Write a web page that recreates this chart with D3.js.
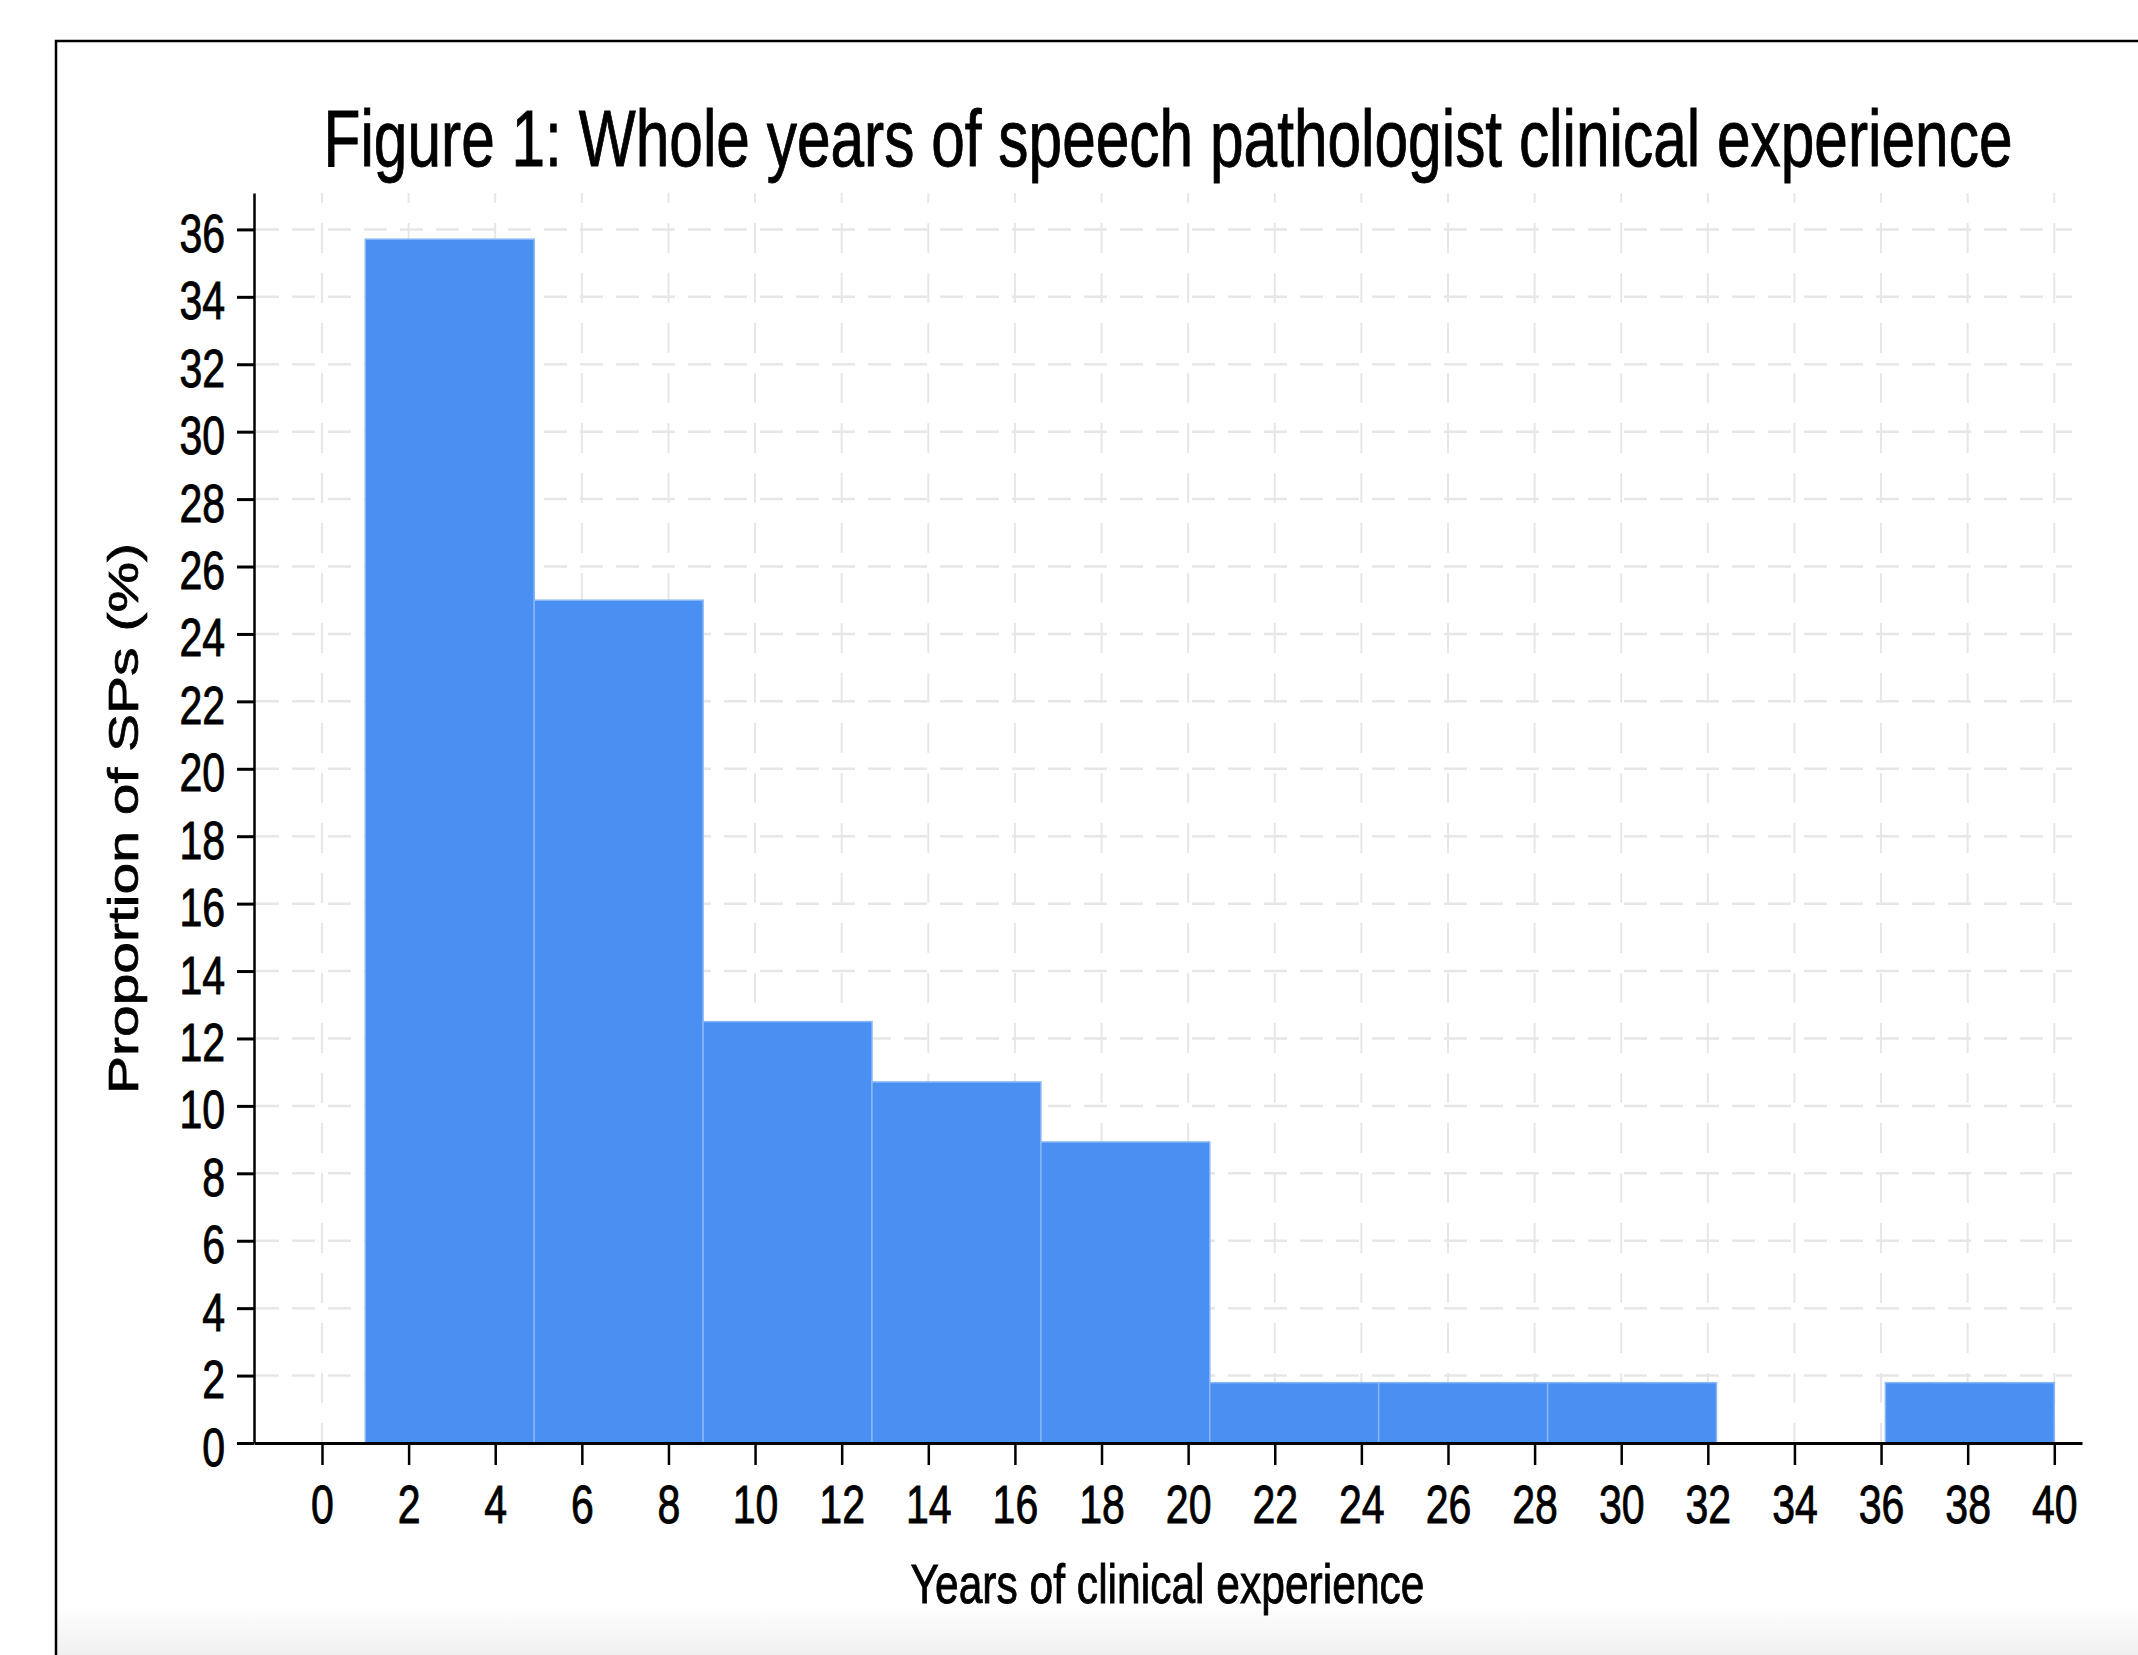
<!DOCTYPE html>
<html>
<head>
<meta charset="utf-8">
<script src="https://cdn.jsdelivr.net/npm/d3@7"></script>
<style>
  body { margin: 0; background: #fff; }
  text { font-family: "Liberation Sans", Arial, Helvetica, sans-serif; fill: #000; stroke: #000; stroke-width: 0.9px; }
</style>
</head>
<body>
<div id="chart"></div>
<script>
// histogram of whole years of clinical experience (percent of SPs per bin)
var binEdges = [1, 4.9, 8.8, 12.7, 16.6, 20.5, 24.4, 28.3, 32.2, 36.1, 40];
var percents = [35.71, 25.0, 12.5, 10.71, 8.93, 1.79, 1.79, 1.79, 0, 1.79];

var xTicks = [0, 2, 4, 6, 8, 10, 12, 14, 16, 18, 20, 22, 24, 26, 28, 30, 32, 34, 36, 38, 40];
var yTicks = [0, 2, 4, 6, 8, 10, 12, 14, 16, 18, 20, 22, 24, 26, 28, 30, 32, 34, 36];

var titleText = "Figure 1: Whole years of speech pathologist clinical experience";
var xLabel = "Years of clinical experience";
var yLabel = "Proportion of SPs (%)";

// the original picture is squeezed sideways, so text gets squeezed too
var SQ = 0.76;

var svgWidth = 2138;
var svgHeight = 1655;

var svg = d3.select("#chart")
  .append("svg")
  .attr("width", svgWidth)
  .attr("height", svgHeight);

// faint grey shade at the bottom
var defs = svg.append("defs");
var grad = defs.append("linearGradient")
  .attr("id", "shade")
  .attr("x1", 0).attr("y1", 0).attr("x2", 0).attr("y2", 1);
grad.append("stop").attr("offset", "0%").attr("stop-color", "#ffffff");
grad.append("stop").attr("offset", "100%").attr("stop-color", "#f0f0f0");

svg.append("rect")
  .attr("x", 57).attr("y", 1605)
  .attr("width", svgWidth).attr("height", 50)
  .attr("fill", "url(#shade)");

// outer frame, runs off the right and bottom edges
svg.append("rect")
  .attr("x", 56).attr("y", 41)
  .attr("width", 2300).attr("height", 1800)
  .attr("fill", "none")
  .attr("stroke", "#000")
  .attr("stroke-width", 2.5);

var x = d3.scaleLinear().domain([-1.57, 40.64]).range([254, 2082]);
var y = d3.scaleLinear().domain([0, 37.08]).range([1443, 193]);

// grid
var gridGroup = svg.append("g");
gridGroup.selectAll(".hgrid")
  .data(yTicks.filter(d => d > 0))
  .enter()
  .append("line")
  .attr("x1", 256)
  .attr("x2", 2072)
  .attr("y1", d => y(d))
  .attr("y2", d => y(d))
  .attr("stroke", "#e6e6e6")
  .attr("stroke-width", 2.5)
  .attr("stroke-dasharray", "23,13");

gridGroup.selectAll(".vgrid")
  .data(xTicks)
  .enter()
  .append("line")
  .attr("x1", d => x(d))
  .attr("x2", d => x(d))
  .attr("y1", y.range()[1])
  .attr("y2", y(0))
  .attr("stroke", "#e6e6e6")
  .attr("stroke-width", 2)
  .attr("stroke-dasharray", "30,20")
  .attr("stroke-dashoffset", 20);

// bars
var barData = percents.map(function(v, i) {
  return {lo: binEdges[i], hi: binEdges[i + 1], v: v};
}).filter(d => d.v > 0);

svg.append("g").selectAll("rect")
  .data(barData)
  .enter()
  .append("rect")
  .attr("x", d => x(d.lo))
  .attr("width", d => x(d.hi) - x(d.lo))
  .attr("y", d => y(d.v))
  .attr("height", d => y(0) - y(d.v))
  .attr("fill", "#4a90f3")
  .attr("stroke", "#88b6f7")
  .attr("stroke-width", 1.5);

// x axis
var xAxisG = svg.append("g")
  .attr("transform", "translate(0," + y(0) + ")")
  .call(d3.axisBottom(x).tickValues(xTicks).tickSize(22).tickSizeOuter(0).tickFormat(d3.format("d")));
xAxisG.attr("font-size", 54).attr("font-family", null);
xAxisG.select(".domain").attr("stroke-width", 3);
xAxisG.selectAll(".tick line").attr("stroke-width", 2.5);
xAxisG.selectAll(".tick text")
  .attr("y", 80)
  .attr("dy", null)
  .attr("transform", "scale(" + SQ + ",1)");

// y axis
var yAxisG = svg.append("g")
  .attr("transform", "translate(" + x.range()[0] + ",0)")
  .call(d3.axisLeft(y).tickValues(yTicks).tickSize(17).tickSizeOuter(0).tickFormat(d3.format("d")));
yAxisG.attr("font-size", 54).attr("font-family", null);
yAxisG.select(".domain").attr("stroke-width", 2.5);
yAxisG.selectAll(".tick line").attr("stroke-width", 3);
yAxisG.selectAll(".tick text")
  .attr("x", -29 / SQ)
  .attr("y", 22)
  .attr("dy", null)
  .attr("transform", "scale(" + SQ + ",1)");

// title and axis titles
svg.append("text")
  .attr("transform", "translate(1168,166) scale(" + SQ + ",1)")
  .attr("text-anchor", "middle")
  .attr("font-size", 79.5)
  .text(titleText);

svg.append("text")
  .attr("transform", "translate(1167.5,1602.7) scale(" + SQ + ",1)")
  .attr("text-anchor", "middle")
  .attr("font-size", 56)
  .text(xLabel);

svg.append("text")
  .attr("transform", "translate(138,818.5) scale(" + SQ + ",1) rotate(-90)")
  .attr("text-anchor", "middle")
  .attr("font-size", 57)
  .text(yLabel);
</script>
</body>
</html>
